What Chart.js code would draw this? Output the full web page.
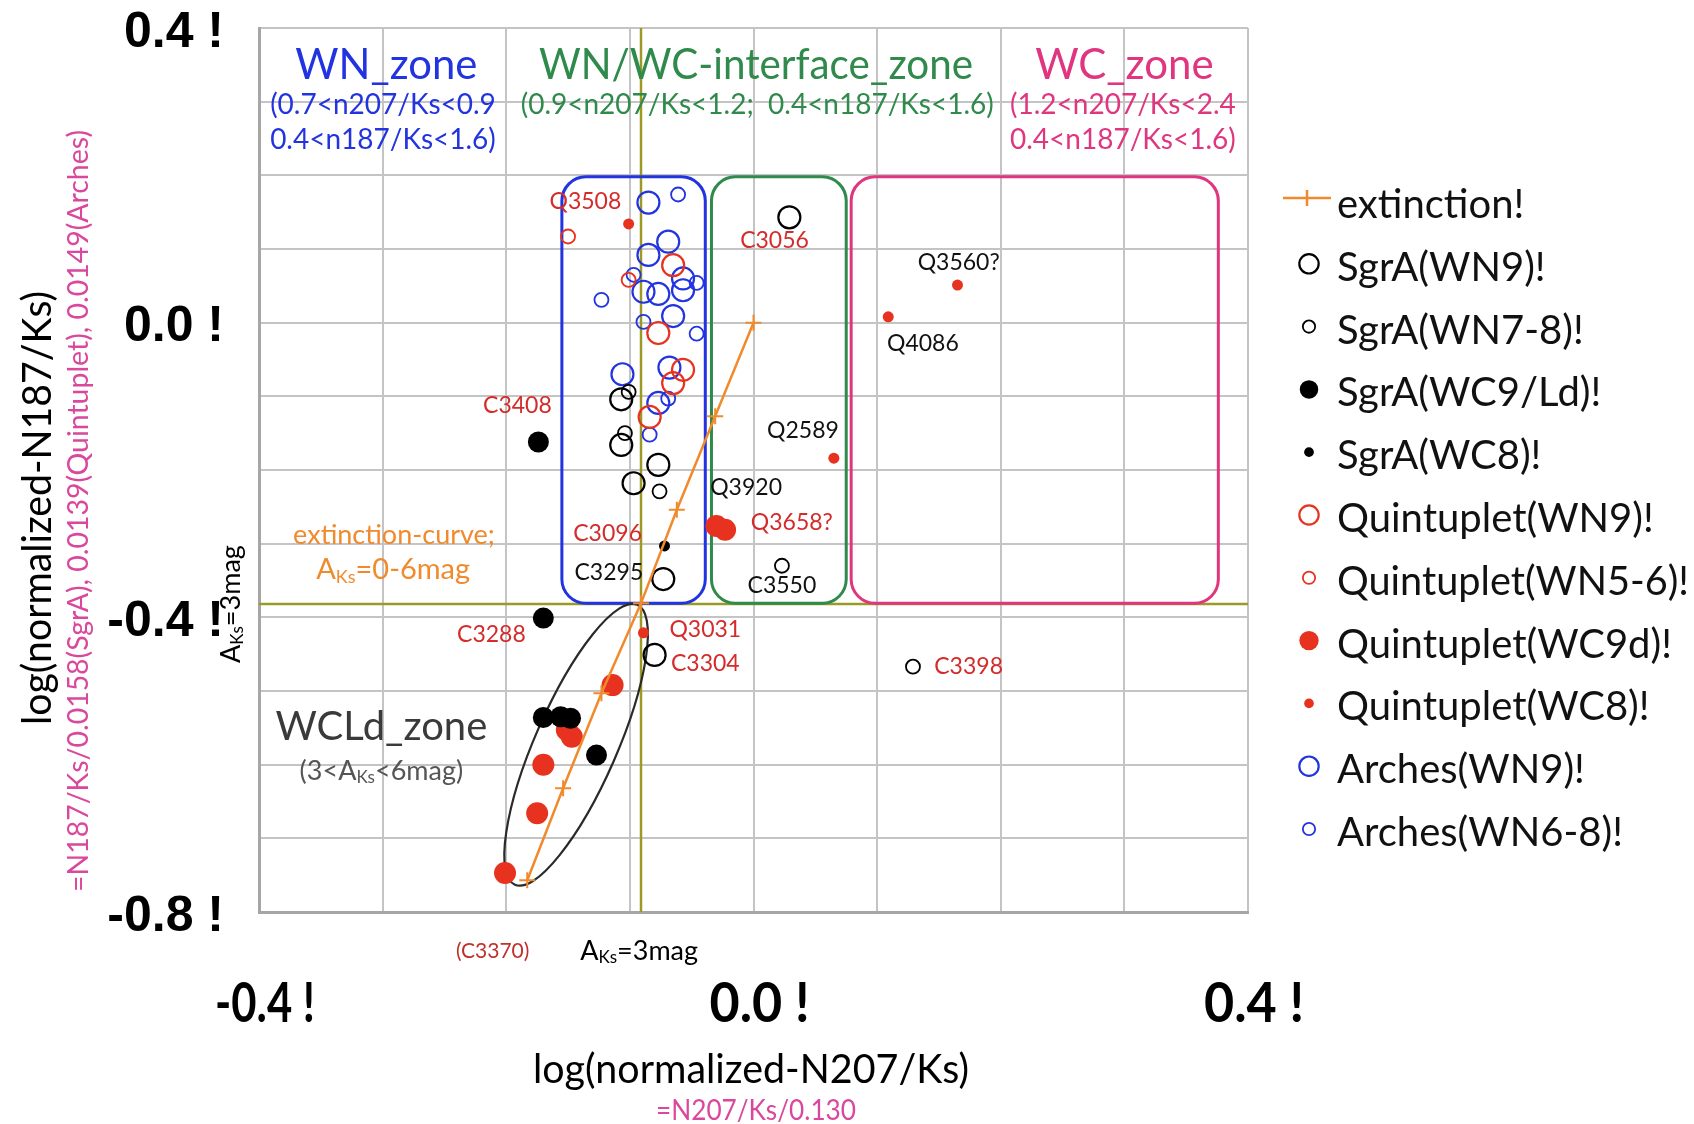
<!DOCTYPE html>
<html>
<head>
<meta charset="utf-8">
<title>log N207/Ks vs log N187/Ks</title>
<script src="https://cdn.jsdelivr.net/npm/chart.js@4.4.1/dist/chart.umd.min.js"></script>
<style>
  html, body { margin: 0; padding: 0; background: #fff; }
  canvas { display: block; }
</style>
</head>
<body>
<canvas id="ratioChart" width="1694" height="1124"></canvas>
<script>
// ---- data: log(normalized N207/Ks), log(normalized N187/Ks) ----
const extinctionX = [0, -0.031, -0.062, -0.091, -0.123, -0.154, -0.183];
const extinctionY = [0, -0.127, -0.254, -0.381, -0.503, -0.632, -0.757];

const sgrA_WN9 = [[0.029, 0.143], [-0.107, -0.104], [-0.107, -0.166], [-0.077, -0.193], [-0.097, -0.218], [-0.073, -0.348], [-0.080, -0.451]];
const sgrA_WN78 = [[-0.101, -0.094], [-0.104, -0.150], [-0.076, -0.229], [0.023, -0.330], [0.129, -0.467]];
const sgrA_WC9Ld = [[-0.174, -0.162], [-0.170, -0.401], [-0.170, -0.536], [-0.156, -0.535], [-0.148, -0.537], [-0.127, -0.587]];
const sgrA_WC8 = [[-0.072, -0.303]];
const quin_WN9 = [[-0.065, 0.078], [-0.077, -0.014], [-0.057, -0.064], [-0.065, -0.082], [-0.084, -0.128]];
const quin_WN56 = [[-0.150, 0.117], [-0.101, 0.058]];
const quin_WC9d = [[-0.030, -0.276], [-0.023, -0.281], [-0.114, -0.492], [-0.151, -0.553], [-0.147, -0.562], [-0.170, -0.600], [-0.175, -0.666], [-0.201, -0.747]];
const quin_WC8 = [[-0.101, 0.134], [0.165, 0.051], [0.109, 0.008], [0.065, -0.184], [-0.089, -0.421]];
const arch_WN9 = [[-0.085, 0.163], [-0.069, 0.110], [-0.085, 0.092], [-0.057, 0.060], [-0.089, 0.042], [-0.077, 0.039], [-0.057, 0.044], [-0.065, 0.009], [-0.106, -0.070], [-0.068, -0.061], [-0.077, -0.109]];
const arch_WN68 = [[-0.061, 0.174], [-0.097, 0.065], [-0.046, 0.054], [-0.123, 0.031], [-0.089, 0.001], [-0.046, -0.015], [-0.069, -0.103], [-0.084, -0.152]];

const legendLabels = ['extinction!', 'SgrA(WN9)!', 'SgrA(WN7-8)!', 'SgrA(WC9/Ld)!', 'SgrA(WC8)!',
  'Quintuplet(WN9)!', 'Quintuplet(WN5-6)!', 'Quintuplet(WC9d)!', 'Quintuplet(WC8)!', 'Arches(WN9)!', 'Arches(WN6-8)!'];

const xTicks = [-0.4, 0.0, 0.4];
const xTickLabels = ['-0.4 !', '0.0 !', '0.4 !'];
const yTicks = [0.4, 0.0, -0.4, -0.8];
const yTickLabels = ['0.4 !', '0.0 !', '-0.4 !', '-0.8 !'];

// zone boxes: [xmin, xmax] in log N207/Ks, shared y range in log N187/Ks
const zoneXRanges = [[-0.155, -0.039], [-0.034, 0.075], [0.079, 0.376]];
const zoneYRange = [-0.381, 0.198];
const aks3mag = [-0.091, -0.382];   // A_Ks = 3 mag (x, y)
const wcldTips = [[-0.094, -0.383], [-0.193, -0.763]];

// star ids: [text, x, y, colour]
const starLabels = [
  ['Q3508', -0.136, 0.165, 'red'], ['C3056', 0.017, 0.112, 'red'], ['Q3560?', 0.166, 0.082, 'black'],
  ['Q4086', 0.137, -0.028, 'black'], ['C3408', -0.191, -0.113, 'red'], ['Q2589', 0.040, -0.146, 'black'],
  ['Q3920', -0.006, -0.224, 'black'], ['Q3658?', 0.031, -0.272, 'red'], ['C3096', -0.118, -0.286, 'red'],
  ['C3295', -0.117, -0.339, 'black'], ['C3550', 0.023, -0.357, 'black'], ['Q3031', -0.039, -0.416, 'red'],
  ['C3288', -0.212, -0.423, 'red'], ['C3304', -0.039, -0.463, 'red'], ['C3398', 0.174, -0.467, 'red']
];

const RED = '#e6321f', BLUE = '#2233e0', BLACK = '#000';
const LABEL_RED = '#d42b2b';
const ORANGE = '#f08a2c', OLIVE = '#9c9a24';
const MAGENTA = '#d9489d';
const GILL = 'Lato, "Open Sans", sans-serif';

const pts = arr => arr.map(p => ({ x: p[0], y: p[1] }));

function openSet(label, arr, color, r, bw) {
  return { label, data: pts(arr), pointStyle: 'circle', pointRadius: r, pointBorderWidth: bw,
    pointBackgroundColor: 'rgba(0,0,0,0)', pointBorderColor: color, showLine: false };
}
function filledSet(label, arr, color, r) {
  return { label, data: pts(arr), pointStyle: 'circle', pointRadius: r, pointBorderWidth: 0,
    pointBackgroundColor: color, pointBorderColor: color, showLine: false };
}

function text(ctx, s, x, y, size, color, align, maxW, weight) {
  ctx.font = (weight || 'normal') + ' ' + size + 'px ' + GILL;
  ctx.fillStyle = color;
  ctx.textAlign = align || 'center';
  ctx.textBaseline = 'middle';
  if (maxW) ctx.fillText(s, x, y, maxW); else ctx.fillText(s, x, y);
}

// text with subscript parts: [[str, isSub], ...], centered at x
function subText(ctx, parts, x, y, size, color) {
  ctx.fillStyle = color;
  ctx.textBaseline = 'alphabetic';
  ctx.textAlign = 'left';
  const fonts = parts.map(p => (p[1] ? Math.round(size * 0.62) : size) + 'px ' + GILL);
  let total = 0;
  const widths = parts.map((p, i) => { ctx.font = fonts[i]; const w = ctx.measureText(p[0]).width; total += w; return w; });
  let cx = x - total / 2;
  parts.forEach((p, i) => {
    ctx.font = fonts[i];
    ctx.fillText(p[0], cx, y + (p[1] ? size * 0.12 : 0));
    cx += widths[i];
  });
}

function roundRect(ctx, x0, y0, x1, y1, r) {
  ctx.beginPath();
  ctx.moveTo(x0 + r, y0);
  ctx.arcTo(x1, y0, x1, y1, r);
  ctx.arcTo(x1, y1, x0, y1, r);
  ctx.arcTo(x0, y1, x0, y0, r);
  ctx.arcTo(x0, y0, x1, y0, r);
  ctx.closePath();
  ctx.stroke();
}

const underlay = {
  id: 'underlay',
  beforeDatasetsDraw(chart) {
    const { ctx, chartArea: a, scales: { x, y } } = chart;
    ctx.save();
    // A_Ks = 3 mag lines
    ctx.strokeStyle = OLIVE;
    ctx.lineWidth = 2.5;
    ctx.beginPath();
    ctx.moveTo(x.getPixelForValue(aks3mag[0]), a.top);
    ctx.lineTo(x.getPixelForValue(aks3mag[0]), a.bottom);
    ctx.moveTo(a.left, y.getPixelForValue(aks3mag[1]));
    ctx.lineTo(a.right, y.getPixelForValue(aks3mag[1]));
    ctx.stroke();

    // zone boxes
    const zoneColors = [BLUE, '#2f8a4c', '#e0357f'];
    ctx.lineWidth = 3;
    zoneXRanges.forEach((zr, i) => {
      ctx.strokeStyle = zoneColors[i];
      roundRect(ctx, x.getPixelForValue(zr[0]), y.getPixelForValue(zoneYRange[1]),
        x.getPixelForValue(zr[1]), y.getPixelForValue(zoneYRange[0]), 24);
    });

    // WCLd zone ellipse
    const tx = wcldTips.map(t => x.getPixelForValue(t[0]));
    const ty = wcldTips.map(t => y.getPixelForValue(t[1]));
    const cx = (tx[0] + tx[1]) / 2, cy = (ty[0] + ty[1]) / 2;
    const half = Math.hypot(tx[0] - tx[1], ty[0] - ty[1]) / 2;
    const rot = Math.atan2(tx[0] - tx[1], ty[1] - ty[0]);
    ctx.strokeStyle = '#2a2a2a';
    ctx.lineWidth = 2.2;
    ctx.beginPath();
    ctx.ellipse(cx, cy, 41, half, rot, 0, Math.PI * 2);
    ctx.stroke();
    ctx.restore();
  }
};

const overlay = {
  id: 'overlay',
  afterDraw(chart) {
    const { ctx, chartArea: a, scales: { x, y } } = chart;
    ctx.save();

    // tick labels
    yTicks.forEach((v, i) => {
      ctx.font = 'bold 50px "Liberation Sans", Arial, sans-serif';
      ctx.fillStyle = '#000';
      ctx.textAlign = 'right';
      ctx.textBaseline = 'middle';
      ctx.fillText(yTickLabels[i], a.left - 35, y.getPixelForValue(v) + 5);
    });
    xTicks.forEach((v, i) => {
      text(ctx, xTickLabels[i], x.getPixelForValue(v) + 6, a.bottom + 92, 56, '#000', 'center', 100, 'bold');
    });

    // axis titles
    text(ctx, 'log(normalized-N207/Ks)', 751, a.bottom + 158, 40, '#000', 'center', 436);
    text(ctx, '=N207/Ks/0.130', 756, a.bottom + 199, 28, MAGENTA, 'center', 200);
    ctx.save();
    ctx.translate(38, 508);
    ctx.rotate(-Math.PI / 2);
    text(ctx, 'log(normalized-N187/Ks)', 0, 0, 40, '#000', 'center', 434);
    ctx.restore();
    ctx.save();
    ctx.translate(79, 511);
    ctx.rotate(-Math.PI / 2);
    text(ctx, '=N187/Ks/0.0158(SgrA), 0.0139(Quintuplet), 0.0149(Arches)', 0, 0, 29, MAGENTA, 'center', 762);
    ctx.restore();

    // zone headers
    const zx = v => x.getPixelForValue(v);
    text(ctx, 'WN_zone', zx(-0.297), a.top + 37, 42, BLUE, 'center', 182);
    text(ctx, 'WN/WC-interface_zone', zx(0.002), a.top + 37, 42, '#2f8a4c', 'center', 434);
    text(ctx, 'WC_zone', zx(0.300), a.top + 37, 42, '#e0357f', 'center', 182);
    text(ctx, '(0.7<n207/Ks<0.9', zx(-0.391), a.top + 77, 28, BLUE, 'left', 230);
    text(ctx, '0.4<n187/Ks<1.6)', zx(-0.391), a.top + 112, 28, BLUE, 'left', 228);
    text(ctx, '(0.9<n207/Ks<1.2;  0.4<n187/Ks<1.6)', zx(0.003), a.top + 77, 28, '#2f8a4c', 'center', 476);
    text(ctx, '(1.2<n207/Ks<2.4', zx(0.2075), a.top + 77, 28, '#e0357f', 'left', 230);
    text(ctx, '0.4<n187/Ks<1.6)', zx(0.2075), a.top + 112, 28, '#e0357f', 'left', 228);

    // star ids
    starLabels.forEach(l => {
      text(ctx, l[0], x.getPixelForValue(l[1]), y.getPixelForValue(l[2]), 23,
        l[3] === 'red' ? LABEL_RED : '#111', 'center', 82);
    });
    text(ctx, '(C3370)', x.getPixelForValue(-0.211), a.bottom + 39, 21, '#c0302a', 'center', 82);
    subText(ctx, [['A', false], ['Ks', true], ['=3mag', false]], x.getPixelForValue(-0.0925), a.bottom + 48, 27, '#000');
    ctx.save();
    ctx.translate(a.left - 15, y.getPixelForValue(aks3mag[1]));
    ctx.rotate(-Math.PI / 2);
    subText(ctx, [['A', false], ['Ks', true], ['=3mag', false]], 0, -4, 27, '#000');
    ctx.restore();

    // extinction curve / WCLd annotations
    text(ctx, 'extinction-curve;', x.getPixelForValue(-0.2908), y.getPixelForValue(-0.289), 27, ORANGE, 'center', 220);
    subText(ctx, [['A', false], ['Ks', true], ['=0-6mag', false]], x.getPixelForValue(-0.2915), y.getPixelForValue(-0.335) + 10, 29, ORANGE);
    text(ctx, 'WCLd_zone', x.getPixelForValue(-0.301), y.getPixelForValue(-0.549), 40, '#3a3a3a', 'center', 226);
    subText(ctx, [['(3<A', false], ['Ks', true], ['<6mag)', false]], x.getPixelForValue(-0.301), y.getPixelForValue(-0.607) + 10, 27, '#555');

    // legend
    const lx = 1309, tx = 1337, ly0 = 201, step = 62.8;
    chart.data.datasets.forEach((ds, i) => {
      const ly = ly0 + i * step;
      if (i === 0) {
        ctx.strokeStyle = ORANGE;
        ctx.lineWidth = 2.5;
        ctx.beginPath();
        ctx.moveTo(lx - 26, ly - 3); ctx.lineTo(lx + 22, ly - 3);
        ctx.moveTo(lx - 2, ly - 11); ctx.lineTo(lx - 2, ly + 5);
        ctx.stroke();
      } else {
        ctx.beginPath();
        ctx.arc(lx, ly, ds.pointRadius * 0.88, 0, Math.PI * 2);
        if (ds.pointBorderWidth > 0) {
          ctx.strokeStyle = ds.pointBorderColor;
          ctx.lineWidth = ds.pointBorderWidth;
          ctx.stroke();
        } else {
          ctx.fillStyle = ds.pointBackgroundColor;
          ctx.fill();
        }
      }
      text(ctx, legendLabels[i], tx, ly + 4, 40, '#111', 'left', 352);
    });
    ctx.restore();
  }
};

const ctx = document.getElementById('ratioChart').getContext('2d');
new Chart(ctx, {
  type: 'scatter',
  data: {
    datasets: [
      { label: legendLabels[0], type: 'line', data: extinctionX.map((v, i) => ({ x: v, y: extinctionY[i] })),
        borderColor: ORANGE, borderWidth: 2.5, fill: false, pointStyle: 'cross', pointRadius: 8,
        pointBorderColor: ORANGE, pointBorderWidth: 2 },
      openSet(legendLabels[1], sgrA_WN9, BLACK, 11, 2.2),
      openSet(legendLabels[2], sgrA_WN78, BLACK, 7, 1.8),
      filledSet(legendLabels[3], sgrA_WC9Ld, BLACK, 10.5),
      filledSet(legendLabels[4], sgrA_WC8, BLACK, 5.5),
      openSet(legendLabels[5], quin_WN9, RED, 11, 2.2),
      openSet(legendLabels[6], quin_WN56, RED, 7, 1.8),
      filledSet(legendLabels[7], quin_WC9d, RED, 11),
      filledSet(legendLabels[8], quin_WC8, RED, 5.5),
      openSet(legendLabels[9], arch_WN9, BLUE, 11, 2.2),
      openSet(legendLabels[10], arch_WN68, BLUE, 7, 1.8)
    ]
  },
  options: {
    responsive: false,
    animation: false,
    events: [],
    devicePixelRatio: 1,
    layout: { padding: { left: 259, right: 446, top: 28, bottom: 212 } },
    plugins: { legend: { display: false }, tooltip: { enabled: false } },
    scales: {
      x: {
        type: 'linear', min: -0.4, max: 0.4,
        ticks: { display: false, stepSize: 0.1 },
        grid: { color: '#c4c4c4', lineWidth: 2, drawTicks: false },
        border: { color: '#a6a6a6', width: 3 }
      },
      y: {
        type: 'linear', min: -0.8, max: 0.4,
        ticks: { display: false, stepSize: 0.1 },
        grid: { color: '#c4c4c4', lineWidth: 2, drawTicks: false },
        border: { color: '#a6a6a6', width: 3 }
      }
    }
  },
  plugins: [underlay, overlay]
});
</script>
</body>
</html>
